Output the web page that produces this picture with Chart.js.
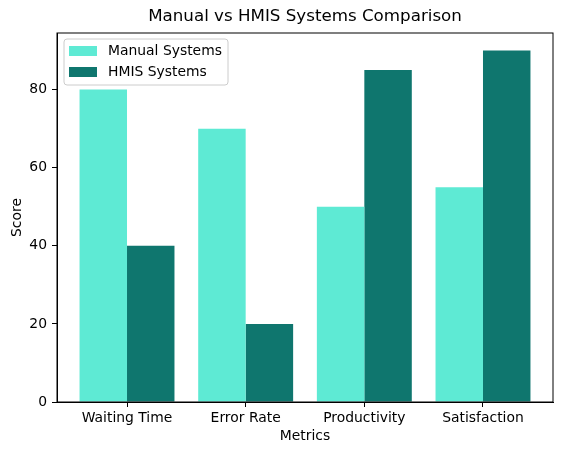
<!DOCTYPE html>
<html>
<head>
<meta charset="utf-8">
<script src="https://cdn.jsdelivr.net/npm/chart.js@4/dist/chart.umd.min.js"></script>
<style>
  html, body { margin: 0; padding: 0; background: #fff; }
  canvas { display: block; }
</style>
</head>
<body>
<canvas id="chart" width="562" height="455"></canvas>
<script>
const categories = ["Waiting Time", "Error Rate", "Productivity", "Satisfaction"];
const manualScores = [80, 70, 50, 55];
const hmisScores = [40, 20, 85, 90];
const yTicks = [0, 20, 40, 60, 80];

const FONT = "'DejaVu Sans', sans-serif";

// frame around plot + title + in-axes legend, like matplotlib
const framePlugin = {
  id: "frame",
  afterDraw(chart) {
    const { ctx, chartArea: a } = chart;
    ctx.save();
    ctx.strokeStyle = "#000";
    ctx.lineWidth = 1;
    ctx.strokeRect(a.left, a.top, a.right - a.left, a.bottom - a.top);

    ctx.fillStyle = "#000";
    ctx.font = "16.7px " + FONT;
    ctx.textAlign = "center";
    ctx.textBaseline = "middle";
    ctx.fillText("Manual vs HMIS Systems Comparison", (a.left + a.right) / 2, 17);

    // legend
    const x0 = a.left + 7, y0 = a.top + 6, w = 164, h = 46;
    ctx.fillStyle = "rgba(255,255,255,0.8)";
    ctx.strokeStyle = "#cccccc";
    ctx.beginPath();
    ctx.roundRect(x0, y0, w, h, 3);
    ctx.fill();
    ctx.stroke();
    ctx.font = "13.9px " + FONT;
    ctx.textAlign = "left";
    chart.data.datasets.forEach((ds, i) => {
      const cy = y0 + 12 + i * 21;
      ctx.fillStyle = ds.backgroundColor;
      ctx.fillRect(x0 + 5, cy - 5, 28, 10);
      ctx.fillStyle = "#000";
      ctx.fillText(ds.label, x0 + 44, cy);
    });
    ctx.restore();
  },
};

new Chart(document.getElementById("chart"), {
  type: "bar",
  data: {
    datasets: [
      {
        label: "Manual Systems",
        data: categories.map((c, i) => ({ x: i, y: manualScores[i] })),
        backgroundColor: "#5eead4",
      },
      {
        label: "HMIS Systems",
        data: categories.map((c, i) => ({ x: i, y: hmisScores[i] })),
        backgroundColor: "#0f766e",
      },
    ],
  },
  options: {
    responsive: false,
    devicePixelRatio: 1,
    animation: false,
    layout: { padding: { top: 33, right: 9, left: 0, bottom: 0 } },
    categoryPercentage: 0.8,
    barPercentage: 1.0,
    plugins: { legend: { display: false }, tooltip: { enabled: false } },
    scales: {
      x: {
        type: "linear",
        min: -0.59,
        max: 3.59,
        offset: false,
        afterBuildTicks: (s) => { s.ticks = categories.map((c, i) => ({ value: i })); },
        afterFit: (s) => { s.height = 53; },
        grid: { offset: false, drawOnChartArea: false, drawTicks: true, tickLength: 5, color: "#000" },
        border: { display: true, color: "#000" },
        ticks: {
          color: "#000",
          font: { family: FONT, size: 13.9 },
          padding: 3,
          maxRotation: 0,
          autoSkip: false,
          callback: (v) => categories[v],
        },
        title: {
          display: true,
          text: "Metrics",
          color: "#000",
          font: { family: FONT, size: 13.9 },
          padding: { top: 0, bottom: 10 },
        },
      },
      y: {
        min: 0,
        max: 94.5,
        afterBuildTicks: (s) => { s.ticks = yTicks.map((v) => ({ value: v })); },
        afterFit: (s) => { s.width = 57; },
        grid: { drawOnChartArea: false, drawTicks: true, tickLength: 5, color: "#000" },
        border: { display: true, color: "#000" },
        ticks: { color: "#000", font: { family: FONT, size: 13.9 }, padding: 5 },
        title: {
          display: true,
          text: "Score",
          color: "#000",
          font: { family: FONT, size: 13.9 },
          padding: { top: 9, bottom: 0 },
        },
      },
    },
  },
  plugins: [framePlugin],
});
</script>
</body>
</html>
